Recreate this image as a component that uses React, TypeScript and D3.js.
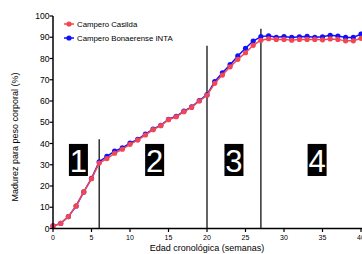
import React from "react";
import * as d3 from "d3";

const weeks = d3.range(0, 41);
const casilda = [1.2, 2.4, 5.6, 10.6, 17.2, 23.4, 30.8, 32.9, 35.4, 37.3, 39.6, 41.6, 44.0, 46.5, 48.4, 51.2, 52.6, 55.0, 57.0, 60.0, 62.7, 68.3, 72.2, 76.1, 79.6, 82.7, 86.2, 88.6, 89.3, 89.0, 89.0, 88.6, 89.0, 89.0, 89.0, 88.8, 89.2, 89.0, 88.3, 88.3, 89.5];
const bonaerense = [1.2, 2.4, 5.6, 10.6, 17.2, 23.6, 31.4, 34.0, 36.4, 37.9, 40.2, 41.9, 44.4, 46.8, 48.6, 51.4, 52.8, 55.2, 57.2, 60.2, 63.0, 69.1, 73.3, 77.1, 81.2, 84.8, 88.2, 90.3, 90.7, 90.0, 90.3, 89.9, 90.2, 90.4, 90.0, 90.2, 90.9, 90.6, 89.9, 89.9, 91.5];
const xTicks = [0, 5, 10, 15, 20, 25, 30, 35, 40];
const yTicks = [0, 10, 20, 30, 40, 50, 60, 70, 80, 90, 100];
const phaseLines = [
  { week: 6, top: 42 },
  { week: 20, top: 86 },
  { week: 27, top: 94 },
];
const phaseLabels = [
  { label: "1", week: 3.3 },
  { label: "2", week: 13.2 },
  { label: "3", week: 23.5 },
  { label: "4", week: 34.3 },
];
const seriesNames = ["Campero Casilda", "Campero Bonaerense INTA"];

const RED = "#f44652";
const BLUE = "#1010ff";
const FONT = "'Liberation Sans', Arial, sans-serif";

export default function App() {
  const W = 362, H = 254;
  const x = d3.scaleLinear().domain([0, 40]).range([53, 361]);
  const y = d3.scaleLinear().domain([0, 100]).range([228.5, 16]);
  const line = d3
    .line<number>()
    .x((_, i) => x(weeks[i]))
    .y((d) => y(d));

  const series = [
    { name: seriesNames[1], data: bonaerense, color: BLUE },
    { name: seriesNames[0], data: casilda, color: RED },
  ];

  return (
    <svg
      width={W}
      height={H}
      style={{ position: "absolute", left: 0, top: 0, background: "#fff" }}
      fontFamily={FONT}
    >
      <rect width={W} height={H} fill="#fff" />
      {/* phase lines */}
      {phaseLines.map((p) => (
        <line
          key={p.week}
          x1={x(p.week)}
          x2={x(p.week)}
          y1={y(0)}
          y2={y(p.top)}
          stroke="#111"
          strokeWidth={1.3}
        />
      ))}
      {/* phase labels */}
      {phaseLabels.map((p) => (
        <g key={p.label}>
          <rect
            x={x(p.week) - 9.5}
            y={y(39.8)}
            width={19}
            height={y(24.7) - y(39.8)}
            fill="#000"
          />
          <text
            x={x(p.week)}
            y={y(26.6)}
            textAnchor="middle"
            fill="#fff"
            fontSize={31}
          >
            {p.label}
          </text>
        </g>
      ))}
      {/* series */}
      {series.map((s) => (
        <g key={s.name}>
          <path d={line(s.data) || ""} fill="none" stroke={s.color} strokeWidth={1.5} />
          {s.data.map((v, i) => (
            <circle key={i} cx={x(weeks[i])} cy={y(v)} r={2.6} fill={s.color} />
          ))}
        </g>
      ))}
      {/* axes */}
      <line x1={x(0)} x2={x(0)} y1={y(0) + 0.75} y2={y(100)} stroke="#000" strokeWidth={1.5} />
      <line x1={x(0)} x2={W} y1={y(0)} y2={y(0)} stroke="#000" strokeWidth={1.5} />
      {yTicks.map((t) => (
        <g key={t}>
          <line x1={x(0) - 3.5} x2={x(0)} y1={y(t)} y2={y(t)} stroke="#000" strokeWidth={1.2} />
          <text x={x(0) - 3.5} y={y(t) + 3} textAnchor="end" fontSize={8.5} fill="#000">
            {t}
          </text>
        </g>
      ))}
      {xTicks.map((t) => (
        <g key={t}>
          <line x1={x(t)} x2={x(t)} y1={y(0)} y2={y(0) + 3.5} stroke="#000" strokeWidth={1.2} />
          <text x={x(t)} y={y(0) + 11} textAnchor="middle" fontSize={7} fill="#000">
            {t}
          </text>
        </g>
      ))}
      <text
        transform={`translate(18,${137}) rotate(-90)`}
        textAnchor="middle"
        fontSize={9}
        fill="#000"
      >
        Madurez para peso corporal (%)
      </text>
      <text x={207} y={251} textAnchor="middle" fontSize={9} fill="#000">
        Edad cronológica (semanas)
      </text>
      {/* legend */}
      {[{ n: seriesNames[0], c: RED }, { n: seriesNames[1], c: BLUE }].map((l, i) => (
        <g key={l.n} transform={`translate(0,${24 + i * 14})`}>
          <line x1={64} x2={74} y1={0} y2={0} stroke={l.c} strokeWidth={1.5} />
          <circle cx={69} cy={0} r={2.6} fill={l.c} />
          <text x={77} y={3} fontSize={7.8} fill="#000">
            {l.n}
          </text>
        </g>
      ))}
    </svg>
  );
}
